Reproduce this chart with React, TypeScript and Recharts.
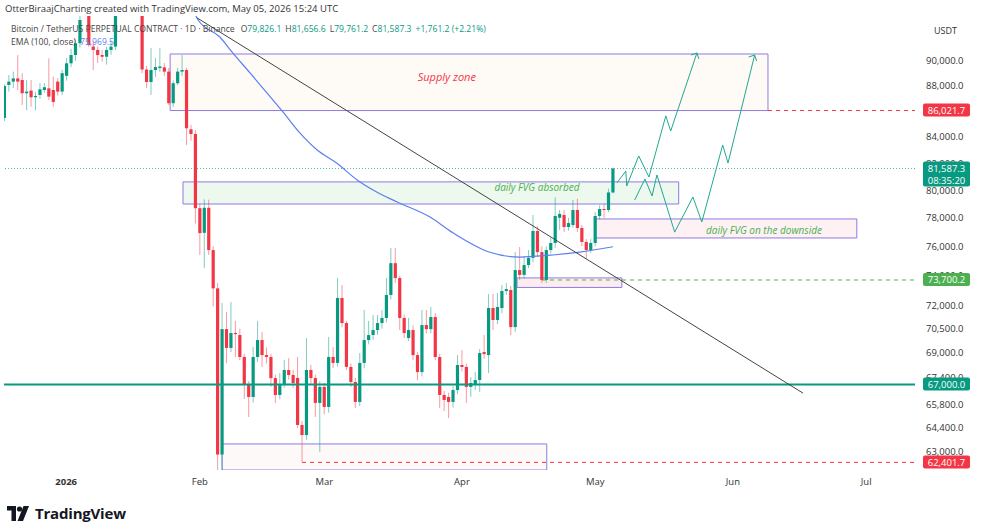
import React from 'react';
import {
  ComposedChart,
  Bar,
  Line,
  XAxis,
  YAxis,
  ReferenceArea,
  ReferenceLine,
  ReferenceDot,
} from 'recharts';

const FONT = '"Open Sans", "Noto Sans", sans-serif';
const GREEN = '#089981';
const RED = '#f23645';
const LIME = '#4caf50';
const PURPLE = '#8e7be3';
const BLUE = '#5b7ff0';
const PROJ = '#22a891';

// Daily candles. Day 0 = 1 Jan 2026, first candle = 19 Dec 2025
const firstDay = -13;

const opens = [
  // Dec
  85440, 88050, 88320, 88580, 88450, 87390, 87600, 87070, 87250, 87650, 87780, 87650, 88320,
  // Jan
  87520, 88790, 89810, 90490, 91470, 93900, 94500, 91190, 90910, 90490, 90350, 90910, 91190,
  94800, 96500, 95600, 95400, 95000, 94600, 89300, 88290, 89260, 89420, 89480, 89130, 86600,
  88190, 89130, 89260, 84560, 84200,
  // Feb
  78690, 76940, 78720, 75740, 73140, 62850, 70470, 69270, 70220, 70090, 68700, 66970, 66240,
  68700, 69770, 68820, 68700, 67390, 66360, 66970, 67890, 67580, 67400, 64570, 63980, 67890,
  67390, 65880,
  // Mar
  66850, 65640, 68700, 68330, 72500, 70860, 68080, 67150, 65940, 68330, 69770, 70090, 70410,
  70860, 71190, 72700, 74840, 73830, 71190, 69900, 70410, 68820, 67760, 70730, 70470, 71250,
  68700, 66360, 66240, 65940, 66660,
  // Apr
  68200, 68080, 66850, 66970, 67270, 69010, 68820, 71840, 71060, 71840, 72960, 73030, 70600,
  74370, 74040, 74710, 75200, 77070, 75600, 73700, 75740, 76230, 78000, 78200, 77350, 77490,
  78560, 77280, 76300, 75740,
  // May
  76230, 78130, 78630, 78560, 79826.1,
];

const highs = [
  88100, 88860, 89130, 90490, 89000, 88450, 88450, 87500, 88200, 88200, 90220, 88730, 88600,
  89260, 90250, 91000, 91800, 94200, 94900, 95000, 91600, 91200, 90910, 91190, 91700, 95500,
  97200, 97800, 96000, 95800, 95400, 95300, 89600, 91070, 90250, 91050, 89840, 89430, 88400,
  89430, 90490, 89430, 84900, 84500,
  79000, 79330, 79300, 76000, 73500, 72170, 71580, 72230, 71000, 70500, 68900, 67200, 69330,
  71000, 70280, 69300, 68900, 67600, 67700, 68510, 68630, 67900, 68700, 64800, 69900, 68200,
  67600, 67200,
  67100, 69960, 69330, 73830, 73360, 71000, 68300, 67400, 68950, 71710, 71000, 71380, 71380,
  71700, 73830, 75880, 75880, 74000, 71400, 71190, 70700, 69000, 71710, 71710, 71910, 71500,
  68900, 66600, 66500, 66900, 68820,
  69140, 68300, 67450, 67770, 69200, 70090, 72760, 72760, 72830, 73360, 73500, 73300, 75600,
  75950, 75330, 75740, 78200, 77400, 76000, 76000, 76600, 79460, 78560, 78560, 78000, 79280,
  79370, 77500, 76500, 76500,
  78400, 78900, 79000, 80100, 81656.6,
];

const lows = [
  85200, 87515, 87800, 87650, 86450, 86040, 86320, 86040, 86950, 87420, 86860, 86320, 87200,
  87250, 88400, 89500, 90000, 91100, 93800, 91160, 89260, 89840, 89960, 89700, 90500, 90900,
  94200, 95000, 94400, 94600, 94000, 89000, 87810, 87250, 88700, 89100, 88780, 86450, 86320,
  88050, 88780, 83360, 83700, 77600,
  75400, 74500, 75400, 71950, 61500, 61600, 68320, 69000, 68700, 68500, 66120, 65040, 65900,
  68400, 68080, 68300, 66850, 65880, 66100, 66800, 67300, 66800, 64400, 62401.7, 63700, 67000,
  65040, 63000,
  65200, 65300, 68000, 68100, 70600, 67900, 66850, 65580, 65700, 68000, 69500, 69800, 70100,
  70500, 70900, 72400, 73500, 70410, 69900, 69700, 68500, 67270, 67500, 70200, 70200, 68500,
  65580, 65400, 64980, 65600, 66400,
  67800, 65880, 66240, 66660, 66540, 68600, 67700, 70410, 70800, 71500, 72700, 70090, 70300,
  73700, 73800, 74500, 74900, 75300, 73500, 73500, 75500, 75900, 77140, 77000, 77100, 77300,
  77000, 76000, 75130, 75540,
  76000, 77900, 78000, 78400, 79761.2,
];

const closes = [
  87970, 88320, 88580, 88320, 87390, 87520, 87070, 87170, 87700, 87870, 87120, 86700, 87520,
  89000, 89810, 90490, 91470, 93430, 94500, 91320, 90910, 90490, 90350, 90910, 91190, 94800,
  96500, 95600, 95400, 95000, 94600, 89300, 88290, 89260, 89500, 89550, 89130, 86600, 88190,
  89130, 89260, 84640, 84200, 78690,
  76920, 78720, 75740, 73140, 62850, 70470, 69270, 70220, 70150, 68700, 66970, 66240, 68700,
  69770, 68820, 68700, 67390, 66360, 66970, 67890, 67580, 67090, 64570, 63980, 67890, 67390,
  65880, 66850,
  65640, 68700, 68330, 72500, 70860, 68080, 67150, 65940, 68330, 69770, 70090, 70410, 70860,
  71190, 72700, 74840, 73830, 71190, 70220, 70410, 68820, 67760, 70730, 70470, 71250, 68700,
  66360, 66060, 65940, 66660, 68200,
  68080, 66850, 67090, 67270, 68950, 68880, 71840, 71060, 71910, 72960, 73090, 70600, 74370,
  74040, 74710, 75200, 77070, 75600, 73700, 75740, 76230, 78130, 78280, 77350, 77630, 78560,
  77280, 76300, 75740, 76230,
  78130, 78630, 78560, 79826.1, 81587.3,
];

const candles = opens.map((o, i) => ({
  d: firstDay + i,
  o,
  h: highs[i],
  l: lows[i],
  c: closes[i],
}));

// EMA (100, close)
const emaDays = [29.5, 30.6, 35.5, 38.4, 42.3, 46.1, 49.7, 53.5, 57.4, 61.8, 66.4, 70.8, 75.4, 82.8, 88, 96.3, 103, 110.5, 116.5, 124];
const emaValues = [94300, 93430, 91990, 90660, 89020, 87410, 85910, 84280, 82980, 82000, 80740, 79860, 79140, 78060, 76940, 75590, 75260, 75400, 75600, 75969.5];
const ema = emaDays.map((d, i) => ({ d, p: emaValues[i] }));

// descending trend line
const trendDays = [30.4, 166.8];
const trendValues = [93600, 66470];
const trend = trendDays.map((d, i) => ({ d, p: trendValues[i] }));

// projected paths
const projADays = [124.9, 126.9, 127.1, 129.8, 132.1, 135.9, 137.0, 142.9];
const projAValues = [80530, 81400, 80300, 82530, 80960, 85600, 84430, 90660];
const projBDays = [128.9, 131.2, 132.8, 133.9, 137.9, 142.0, 144.0, 148.7, 149.9, 155.9];
const projBValues = [79280, 80820, 79570, 81110, 76990, 79500, 77700, 83360, 82000, 90490];
const projA = projADays.map((d, i) => ({ d, p: projAValues[i] }));
const projB = projBDays.map((d, i) => ({ d, p: projBValues[i] }));

// levels
const supplyTop = 90576;
const supplyBottom = 86021.7;
const lastPrice = 81587.3;
const greenLevel = 73700.2;
const keyLevel = 67000;
const lowLevel = 62401.7;

// price axis: plain ticks first, coloured level tags last so they sit on top
const priceTicks = [90000, 88000, 84000, 82000, 80000, 78000, 76000, 74000, 72000, 70500, 69000, 67400, 65800, 64400, 63000];
const tagValues = [supplyBottom, lastPrice, greenLevel, keyLevel, lowLevel];
const tagColors = [RED, GREEN, LIME, GREEN, RED];
const monthDays = [0, 31, 59, 90, 120, 151, 181];
const monthLabels = ['2026', 'Feb', 'Mar', 'Apr', 'May', 'Jun', 'Jul'];

const fmt = (v: number) =>
  v.toLocaleString('en-US', { minimumFractionDigits: 1, maximumFractionDigits: 1 });

const Candle = (props: any) => {
  const { x, y, width, height, payload } = props;
  const { o, h, l, c } = payload;
  const color = c >= o ? GREEN : RED;
  const span = Math.log(h) - Math.log(l);
  const at = (v: number) => (span === 0 ? y : y + (height * (Math.log(h) - Math.log(v))) / span);
  const cx = x + (width || 0) / 2;
  const top = at(Math.max(o, c));
  const bot = at(Math.min(o, c));
  return (
    <g>
      <line x1={cx} x2={cx} y1={y} y2={y + height} stroke={color} strokeOpacity={0.5} strokeWidth={1} />
      <rect x={cx - 1.6} y={top} width={3.2} height={Math.max(1, bot - top)} fill={color} />
    </g>
  );
};

const PriceTick = (props: any) => {
  const { x, y, payload } = props;
  const v = payload.value;
  const k = tagValues.indexOf(v);
  if (k < 0) {
    return (
      <text x={x + 3} y={y} dy={3.5} fontSize={9.5} fill="#333" fontFamily={FONT} textAnchor="start">
        {fmt(v)}
      </text>
    );
  }
  const twoLine = v === lastPrice;
  return (
    <g>
      <rect x={x} y={y - 7} width={47} height={twoLine ? 25 : 13} rx={2} fill={tagColors[k]} />
      <text x={x + 23.5} y={y} dy={3.5} fontSize={9.5} fill="#fff" textAnchor="middle" fontFamily={FONT}>
        {fmt(v)}
      </text>
      {twoLine && (
        <text x={x + 23.5} y={y + 12} dy={3.5} fontSize={9.5} fill="#fff" textAnchor="middle" fontFamily={FONT}>
          08:35:20
        </text>
      )}
    </g>
  );
};

const DateTick = (props: any) => {
  const { x, y, payload, index } = props;
  return (
    <text
      x={index === 0 ? x + 4 : x}
      y={y}
      dy={7}
      fontSize={9.5}
      fill="#333"
      fontWeight={index === 0 ? 700 : 400}
      fontFamily={FONT}
      textAnchor="middle"
    >
      {monthLabels[monthDays.indexOf(payload.value)]}
    </text>
  );
};

const note = (text: string, color: string, size: number) => (p: any) => {
  const vb = p.viewBox;
  return (
    <text
      x={vb.x + vb.width / 2}
      y={vb.y + vb.height / 2 + size * 0.35}
      fontSize={size}
      fontStyle="italic"
      fill={color}
      textAnchor="middle"
      fontFamily={FONT}
    >
      {text}
    </text>
  );
};

const arrowDot = (count: number) => (p: any) => {
  if (p.index !== count - 1) return <g key={`a${p.index}`} />;
  return (
    <path
      key={`a${p.index}`}
      d={`M${p.cx - 6},${p.cy + 2} L${p.cx},${p.cy} L${p.cx + 2},${p.cy + 6}`}
      fill="none"
      stroke={PROJ}
      strokeWidth={1}
    />
  );
};

const Logo = () => (
  <div style={{ position: 'absolute', left: 7, top: 503, display: 'flex', alignItems: 'center' }}>
    <svg width={24} height={15} viewBox="0 0 24 15">
      <path d="M0 0 H9 V15 H4.5 V4.5 H0 Z" fill="#131722" />
      <circle cx={12.5} cy={3} r={2.6} fill="#131722" />
      <path d="M16.5 0 H22 L16 15 H10.5 Z" fill="#131722" />
    </svg>
    <span style={{ marginLeft: 4, fontFamily: FONT, fontWeight: 700, fontSize: 15, color: '#131722', letterSpacing: -0.2 }}>
      TradingView
    </span>
  </div>
);

const App: React.FC = () => {
  return (
    <div style={{ position: 'absolute', left: 0, top: 0, width: 981, height: 531, background: '#fff', overflow: 'hidden' }}>
      <ComposedChart
        width={981}
        height={531}
        data={candles}
        margin={{ top: 16, right: 0, bottom: 37, left: 4 }}
      >
        <XAxis
          dataKey="d"
          type="number"
          domain={[-13.1, 192]}
          allowDataOverflow
          ticks={monthDays}
          tick={<DateTick />}
          axisLine={false}
          tickLine={false}
          height={24}
        />
        <YAxis
          orientation="right"
          scale="log"
          domain={[61970, 93770]}
          allowDataOverflow
          ticks={[...priceTicks, ...tagValues]}
          interval={0}
          tick={<PriceTick />}
          axisLine={false}
          tickLine={false}
          width={66}
        />

        <ReferenceArea x1={24.3} x2={158.9} y1={supplyBottom} y2={supplyTop} fill="#fdf5ea" fillOpacity={0.45} stroke={PURPLE} strokeWidth={1} />
        <ReferenceArea x1={27.2} x2={138.8} y1={78990} y2={80600} fill="#dcf1df" fillOpacity={0.5} stroke={PURPLE} strokeWidth={1} />
        <ReferenceArea x1={120.1} x2={178.9} y1={76580} y2={77920} fill="#fce4e7" fillOpacity={0.5} stroke={PURPLE} strokeWidth={1} />
        <ReferenceArea x1={102.4} x2={126} y1={73200} y2={73840} fill="#fbdfe3" fillOpacity={0.6} stroke={PURPLE} strokeWidth={1} />
        <ReferenceArea x1={36} x2={109.1} y1={61970} y2={63460} fill="#fdf3f3" fillOpacity={0.5} stroke={PURPLE} strokeWidth={1} ifOverflow="hidden" />

        <ReferenceLine y={lastPrice} stroke={GREEN} strokeOpacity={0.7} strokeDasharray="1 2" />
        <ReferenceLine y={keyLevel} stroke={GREEN} strokeWidth={2} />
        <ReferenceLine segment={[{ x: 158.9, y: supplyBottom }, { x: 192, y: supplyBottom }]} stroke={RED} strokeDasharray="4 4" />
        <ReferenceLine segment={[{ x: 108, y: greenLevel }, { x: 192, y: greenLevel }]} stroke={LIME} strokeDasharray="4 4" />
        <ReferenceLine segment={[{ x: 54, y: lowLevel }, { x: 192, y: lowLevel }]} stroke={RED} strokeDasharray="4 4" />

        <Bar dataKey={(e: any) => [e.l, e.h]} barSize={3} shape={<Candle />} isAnimationActive={false} />

        <Line data={ema} dataKey="p" type="monotone" stroke={BLUE} strokeWidth={1.2} dot={false} isAnimationActive={false} />
        <Line data={trend} dataKey="p" type="linear" stroke="#444" strokeWidth={1} dot={false} isAnimationActive={false} />
        <Line data={projA} dataKey="p" type="linear" stroke={PROJ} strokeWidth={1} dot={arrowDot(projA.length)} isAnimationActive={false} />
        <Line data={projB} dataKey="p" type="linear" stroke={PROJ} strokeWidth={1} dot={arrowDot(projB.length)} isAnimationActive={false} />

        <ReferenceDot x={86.6} y={88700} r={1} fill="none" stroke="none" label={note('Supply zone', RED, 11)} />
        <ReferenceDot x={106.9} y={80220} r={1} fill="none" stroke="none" label={note('daily FVG absorbed', LIME, 10)} />
        <ReferenceDot x={158} y={77080} r={1} fill="none" stroke="none" label={note('daily FVG on the downside', LIME, 10)} />
      </ComposedChart>

      <div style={{ position: 'absolute', left: 5, top: 2, fontFamily: FONT, fontSize: 9.5, color: '#333', whiteSpace: 'nowrap' }}>
        OtterBiraajCharting created with TradingView.com, May 05, 2026 15:24 UTC
      </div>
      <div style={{ position: 'absolute', left: 11, top: 23, fontFamily: FONT, fontSize: 8.6, color: '#444', whiteSpace: 'nowrap' }}>
        Bitcoin / TetherUS PERPETUAL CONTRACT · 1D · Binance
        <span style={{ marginLeft: 6 }}>O</span><span style={{ color: GREEN }}>79,826.1</span>
        <span style={{ marginLeft: 4 }}>H</span><span style={{ color: GREEN }}>81,656.6</span>
        <span style={{ marginLeft: 4 }}>L</span><span style={{ color: GREEN }}>79,761.2</span>
        <span style={{ marginLeft: 4 }}>C</span><span style={{ color: GREEN }}>81,587.3</span>
        <span style={{ marginLeft: 4, color: GREEN }}>+1,761.2 (+2.21%)</span>
      </div>
      <div style={{ position: 'absolute', left: 11, top: 36, fontFamily: FONT, fontSize: 8.6, color: '#444', whiteSpace: 'nowrap' }}>
        EMA (100, close) <span style={{ color: BLUE, marginLeft: 2 }}>75,969.5</span>
      </div>
      <div style={{ position: 'absolute', left: 934, top: 24, fontFamily: FONT, fontSize: 9, color: '#333' }}>USDT</div>
      <Logo />
    </div>
  );
};

export default App;
